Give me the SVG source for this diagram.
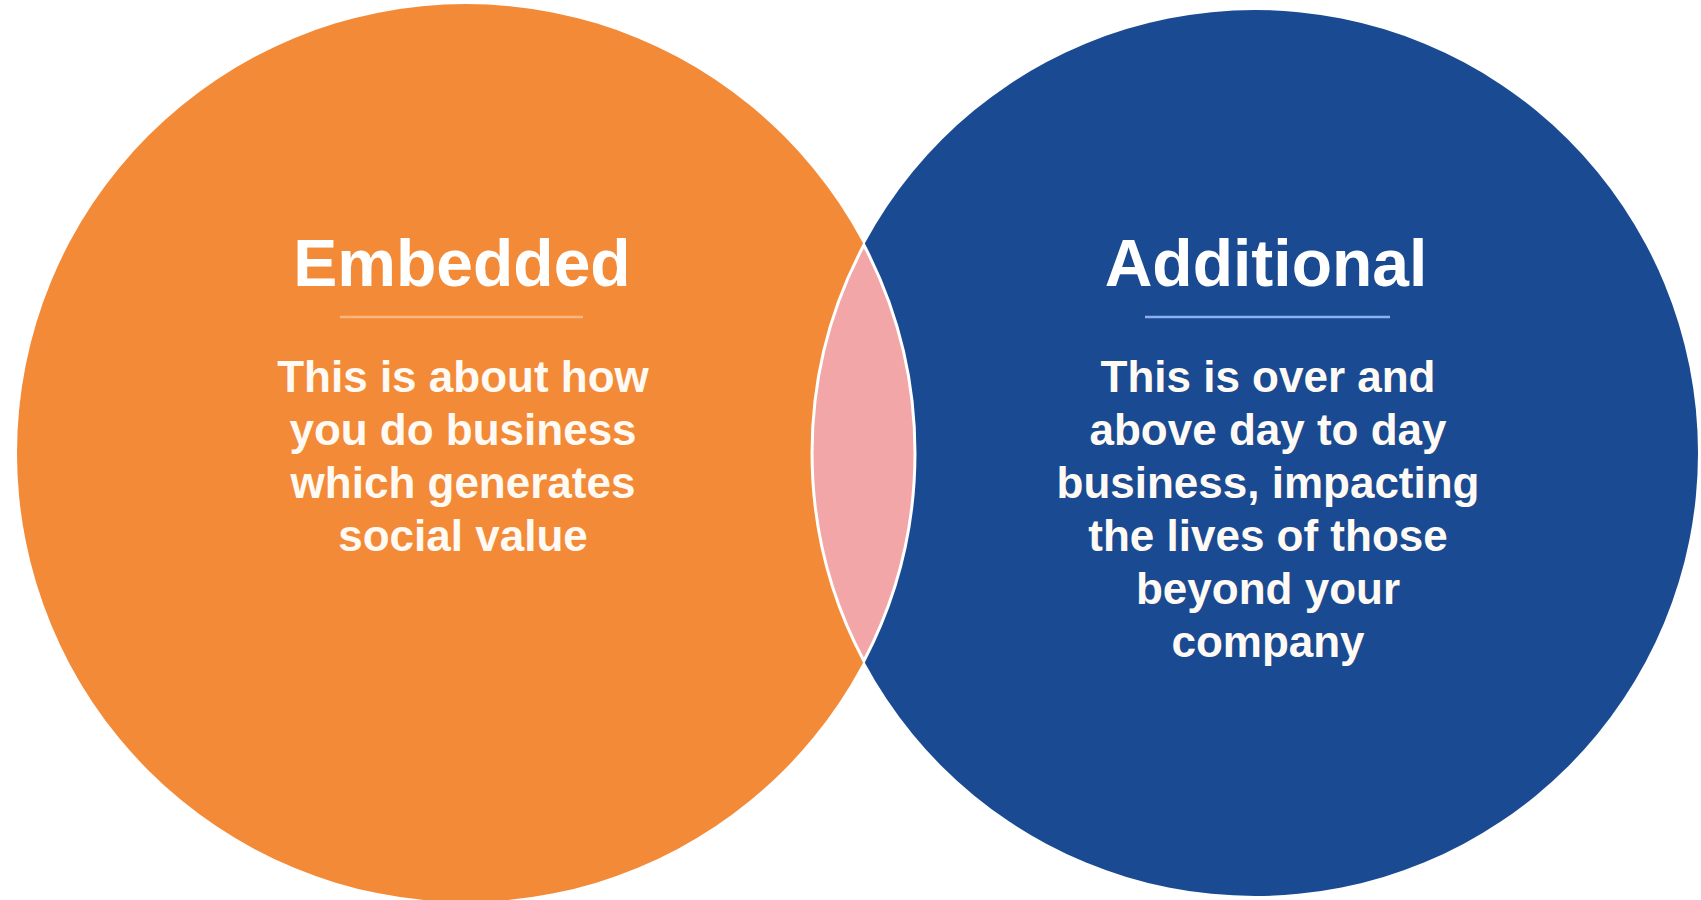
<svg xmlns="http://www.w3.org/2000/svg" width="1701" height="900" viewBox="0 0 1701 900">
  <style>
    .title { font-family: "Liberation Sans", Arial, sans-serif; font-weight: bold; font-size: 66px; fill: #ffffff; text-anchor: middle; }
    .body { font-family: "Liberation Sans", Arial, sans-serif; font-weight: bold; font-size: 44px; fill: #fffaf4; text-anchor: middle; }
    .rule { stroke-width: 2.5; }
  </style>
  <rect width="1701" height="900" fill="#ffffff"/>

  <!-- Left set -->
  <g id="embedded">
    <circle cx="466" cy="453" r="449" fill="#F38A38"/>
  </g>

  <!-- Right set -->
  <g id="additional">
    <circle cx="1255" cy="453" r="443" fill="#1A4A92"/>
  </g>

  <!-- Overlap lens -->
  <g id="overlap">
    <path d="M 863.9 245 A 443 443 0 0 0 863.9 661 A 449 449 0 0 0 863.9 245 Z" fill="#F2A6A7" stroke="#ffffff" stroke-width="3"/>
  </g>

  <!-- Left labels -->
  <g id="embedded-text">
    <text class="title" x="462" y="286">Embedded</text>
    <line class="rule" x1="340" y1="317" x2="583" y2="317" stroke="#F9B882"/>
    <text class="body" x="463" y="392">This is about how</text>
    <text class="body" x="463" y="445">you do business</text>
    <text class="body" x="463" y="498">which generates</text>
    <text class="body" x="463" y="551">social value</text>
  </g>

  <!-- Right labels -->
  <g id="additional-text">
    <text class="title" x="1266" y="286">Additional</text>
    <line class="rule" x1="1145" y1="317" x2="1390" y2="317" stroke="#8DB0EE"/>
    <text class="body" x="1268" y="392">This is over and</text>
    <text class="body" x="1268" y="445">above day to day</text>
    <text class="body" x="1268" y="498">business, impacting</text>
    <text class="body" x="1268" y="551">the lives of those</text>
    <text class="body" x="1268" y="604">beyond your</text>
    <text class="body" x="1268" y="657">company</text>
  </g>
</svg>
